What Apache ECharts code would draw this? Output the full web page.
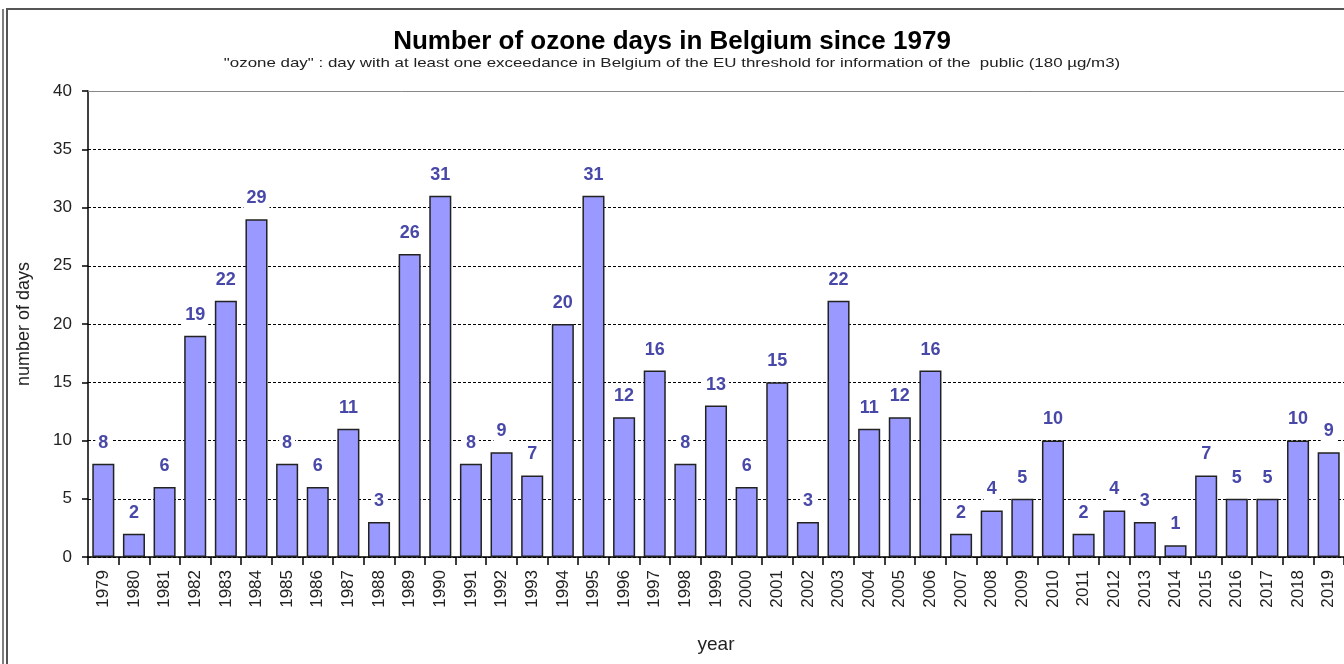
<!DOCTYPE html>
<html>
<head>
<meta charset="utf-8">
<script src="https://cdn.jsdelivr.net/npm/echarts@6/dist/echarts.min.js"></script>
<style>
html,body{margin:0;padding:0;background:#fff;}
#c{width:1344px;height:664px;}
</style>
</head>
<body>
<div id="c"></div>
<script>
const years = ['1979','1980','1981','1982','1983','1984','1985','1986','1987','1988','1989','1990','1991','1992','1993','1994','1995','1996','1997','1998','1999','2000','2001','2002','2003','2004','2005','2006','2007','2008','2009','2010','2011','2012','2013','2014','2015','2016','2017','2018','2019'];
const ozoneDays = [8,2,6,19,22,29,8,6,11,3,26,31,8,9,7,20,31,12,16,8,13,6,15,3,22,11,12,16,2,4,5,10,2,4,3,1,7,5,5,10,9];
const titleText = 'Number of ozone days in Belgium since 1979';
const subtitleText = '"ozone day" : day with at least one exceedance in Belgium of the EU threshold for information of the  public (180 µg/m3)';

const FONT = 'Arial, "Liberation Sans", sans-serif';
const chart = echarts.init(document.getElementById('c'), null, {renderer:'canvas'});
chart.setOption({
  backgroundColor:'#ffffff',
  animation:false,
  title:{
    text:titleText,
    left:'center',
    top:24,
    textStyle:{fontFamily:FONT,fontSize:26,fontWeight:'bold',color:'#000'}
  },
  graphic:[
    {type:'rect',shape:{x:7,y:9,width:1400,height:700},style:{fill:'none',stroke:'#555',lineWidth:2},silent:true},
    {type:'line',shape:{x1:3,y1:9,x2:3,y2:664},style:{stroke:'#555',lineWidth:1.5},silent:true},
    {type:'text',x:672,y:63,scaleX:1.3,silent:true,
     style:{text:subtitleText,font:'13px Arial, "Liberation Sans", sans-serif',fill:'#222',textAlign:'center',textVerticalAlign:'middle'}}
  ],
  grid:{left:88,top:91,bottom:107,right:-3.4,containLabel:false},
  xAxis:[{
    type:'category',
    data:years,
    name:'year',
    nameLocation:'middle',
    nameGap:78,
    nameTextStyle:{fontFamily:FONT,fontSize:19,color:'#222'},
    axisLine:{show:true,lineStyle:{color:'#000',width:1.5}},
    axisTick:{show:true,length:8,lineStyle:{color:'#000',width:1.5}},
    axisLabel:{rotate:90,margin:13,fontFamily:FONT,fontSize:17,color:'#222',interval:0},
    splitLine:{show:false}
  },{
    type:'category',
    data:years,
    position:'top',
    axisLine:{show:true,lineStyle:{color:'#888',width:1}},
    axisTick:{show:false},
    axisLabel:{show:false},
    splitLine:{show:false}
  }],
  yAxis:{
    type:'value',
    min:0,max:40,interval:5,
    name:'number of days',
    nameLocation:'middle',
    nameGap:55,
    nameRotate:90,
    nameTextStyle:{fontFamily:FONT,fontSize:18,color:'#222'},
    axisLine:{show:true,lineStyle:{color:'#000',width:1.5}},
    axisTick:{show:true,length:6,lineStyle:{color:'#000',width:1.5}},
    axisLabel:{margin:16,fontFamily:FONT,fontSize:17,color:'#222'},
    splitLine:{show:true,lineStyle:{color:'#000',width:1,type:[3,2]}}
  },
  series:[{
    type:'bar',
    data:ozoneDays,
    barCategoryGap:'28%',
    itemStyle:{color:'#9999ff',borderColor:'#222',borderWidth:1.5},
    label:{
      show:true,position:'top',distance:10,
      fontFamily:FONT,fontSize:18,fontWeight:'bold',color:'#4848a8',
      backgroundColor:'#fff',padding:[2,3]
    },
    z:3
  }]
});
</script>
</body>
</html>
